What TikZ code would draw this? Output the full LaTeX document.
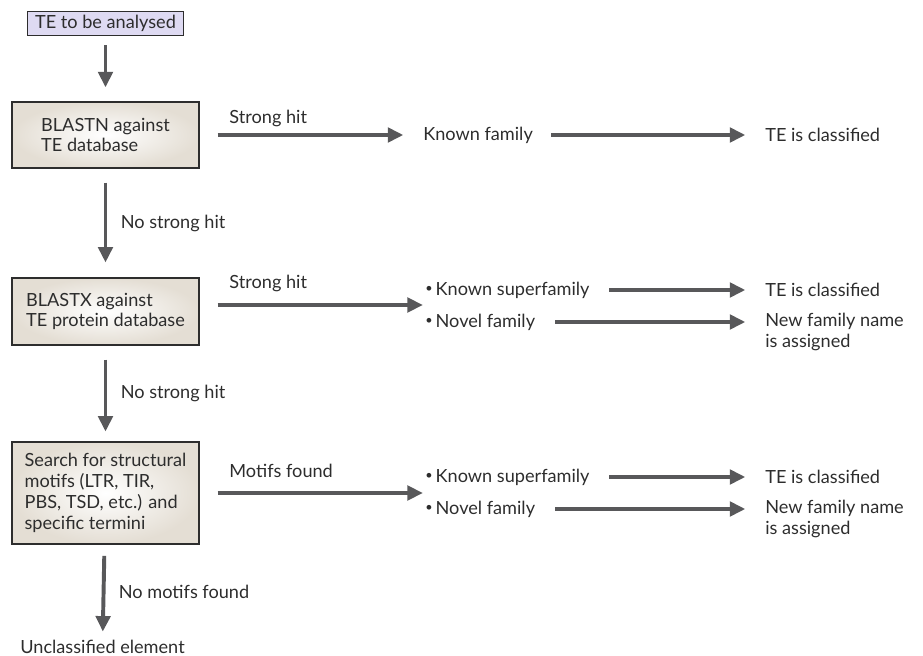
\documentclass[tikz,border=0pt]{standalone}
\usepackage{fontspec}
\setmainfont{Lato}
\usetikzlibrary{positioning, arrows.meta}

\definecolor{flowgrey}{RGB}{88,88,90}
\definecolor{boxedge}{RGB}{228,222,212}
\definecolor{startfill}{RGB}{222,218,242}
\definecolor{inkgrey}{RGB}{45,45,45}
\newcommand{\flowfont}{\fontsize{12.9pt}{14.8pt}\selectfont}
\newcommand{\dotitem}{\raisebox{0.12em}{\fontsize{9pt}{9pt}\selectfont •}\,}

\tikzset{
  startbox/.style={draw=inkgrey, line width=0.7pt, fill=startfill, minimum width=3.875cm, minimum height=0.6cm, inner sep=1pt, font=\flowfont, text=inkgrey},
  stepbox/.style={draw=inkgrey, line width=0.8pt, inner color=white, outer color=boxedge, minimum width=4.675cm, align=left, font=\flowfont, text=inkgrey},
  plain/.style={inner sep=0pt, anchor=west, font=\flowfont, text=inkgrey},
  flow/.style={draw=flowgrey, line width=2.8pt, -{Triangle[length=11pt, width=10.2pt]}},
}

\begin{document}
\begin{tikzpicture}[x=0.025cm, y=-0.025cm]
  \useasboundingbox (0,0) rectangle (923,656);

  % left column
  \node[startbox] (te) at (105.5,23) {TE to be analysed};
  \node[stepbox, minimum height=1.65cm] (blastn) at (105.5,135) {BLASTN against\\TE database};
  \node[stepbox, minimum height=1.675cm] (blastx) at (105.5,311.5) {BLASTX against\\TE protein database};
  \node[stepbox, minimum height=2.55cm] (motifs) at (105.5,493) {Search for structural\\motifs (LTR, TIR,\\PBS, TSD, etc.) and\\specific termini};
  \node[plain, anchor=north] (unclass) at (102.5,640) {Unclassified element};

  % row 1
  \node[plain] (known1) at (423,135) {Known family};
  \node[plain] (cls1) at (765,135) {TE is classified};

  % row 2
  \coordinate (list2) at (425,305);
  \node[plain] (known2) at (425,290) {\dotitem Known superfamily};
  \node[plain] (novel2) at (425,322) {\dotitem Novel family};
  \node[plain] (cls2) at (765,290) {TE is classified};
  \node[plain, anchor=north west, align=left] (new2) at (765,313) {New family name\\is assigned};

  % row 3
  \coordinate (list3) at (425,493);
  \node[plain] (known3) at (425,477) {\dotitem Known superfamily};
  \node[plain] (novel3) at (425,509) {\dotitem Novel family};
  \node[plain] (cls3) at (765,477) {TE is classified};
  \node[plain, anchor=north west, align=left] (new3) at (765,500) {New family name\\is assigned};

  % downward flow
  \draw[flow, shorten <=7pt, shorten >=10pt] (te) -- (blastn);
  \draw[flow, shorten <=10pt, shorten >=10.6pt] (blastn) -- node[plain, right=9.5pt] {No strong hit} (blastx);
  \draw[flow, shorten <=10pt, shorten >=7pt] (blastx) -- node[plain, right=9.5pt] {No strong hit} (motifs);
  \draw[flow, shorten <=8pt, shorten >=6pt] (motifs) -- node[plain, right=9.5pt] {No motifs found} (unclass);

  % sideways flow
  \draw[flow, shorten <=12.8pt, shorten >=14pt] (blastn) -- node[plain, pos=0, xshift=19.8pt, yshift=12pt] {Strong hit} (known1);
  \draw[flow, shorten <=12.8pt, shorten >=14pt] (known1) -- (cls1);
  \draw[flow, shorten <=12.8pt, shorten >=1.5pt] (blastx.east |- list2) -- node[plain, pos=0, xshift=19.8pt, yshift=15pt] {Strong hit} (list2);
  \draw[flow, shorten <=14pt, shorten >=14pt] (known2) -- (cls2);
  \draw[flow, shorten <=14pt, shorten >=14pt] (novel2.east) -- (novel2.east -| new2.west);
  \draw[flow, shorten <=12.8pt, shorten >=1.5pt] (motifs.east |- list3) -- node[plain, pos=0, xshift=19.8pt, yshift=16pt] {Motifs found} (list3);
  \draw[flow, shorten <=14pt, shorten >=14pt] (known3) -- (cls3);
  \draw[flow, shorten <=14pt, shorten >=14pt] (novel3.east) -- (novel3.east -| new3.west);
\end{tikzpicture}
\end{document}
